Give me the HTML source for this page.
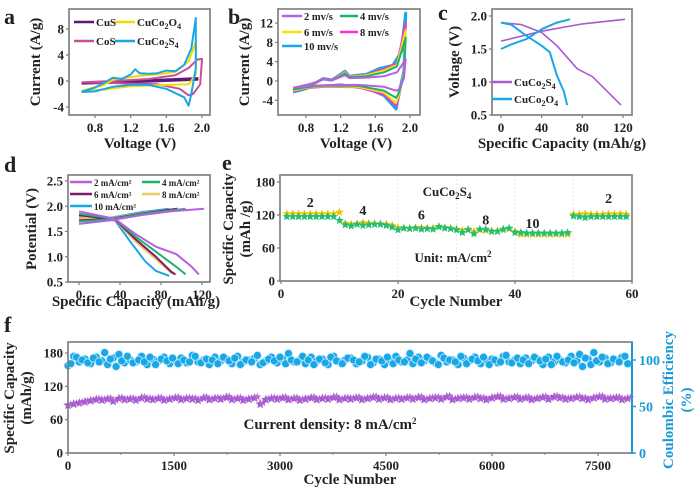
<!DOCTYPE html>
<html><head><meta charset="utf-8"><style>
html,body{margin:0;padding:0;background:#fff;}
svg{display:block;}
svg text{font-family:"Liberation Serif","DejaVu Serif",serif;font-weight:bold;}
</style></head><body>
<svg id="fig" width="700" height="490" viewBox="0 0 700 490" xmlns="http://www.w3.org/2000/svg" font-family="Liberation Serif, serif" font-weight="bold"></svg>
<script>
// ---------- DATA ----------
const aCuS=[[0.65,-0.3],[1.0,-0.1],[1.4,0.1],[1.7,0.3],[1.95,0.45],[1.95,0.2],[1.6,0.0],[1.2,-0.2],[0.65,-0.4]];
const aCoS=[[0.65,-0.2],[1.0,0],[1.4,0.3],[1.7,0.9],[1.85,2.0],[1.95,3.3],[2.0,3.4],[1.98,-0.5],[1.9,-2.0],[1.85,-2.2],[1.75,-1.2],[1.5,-0.5],[1.0,-0.3],[0.65,-0.2]];
const aCuCo2O4=[[0.65,-1.5],[0.9,-0.6],[1.0,0.2],[1.3,0.8],[1.5,1.0],[1.7,1.4],[1.85,3.0],[1.93,6.0],[1.93,1.0],[1.85,-0.5],[1.6,-0.6],[1.2,-0.8],[0.9,-1.3],[0.65,-1.5]];
const aCuCo2S4=[[0.65,-1.7],[0.8,-1.0],[0.9,-0.3],[1.0,0.5],[1.1,0.3],[1.2,1.0],[1.25,1.8],[1.3,1.2],[1.4,1.1],[1.5,1.2],[1.6,1.6],[1.7,1.5],[1.8,2.5],[1.88,5.0],[1.93,9.7],[1.93,2.0],[1.88,-2.0],[1.85,-3.8],[1.8,-2.5],[1.6,-1.2],[1.4,-0.6],[1.2,-0.6],[1.0,-0.9],[0.8,-1.6],[0.65,-1.7]];
const aTicksX=[0.8,1.2,1.6,2.0];
const aTicksY=[-4,0,4,8];
const b2=[[0.65,-1.4],[0.85,-0.6],[1.0,0.3],[1.1,0.1],[1.25,1.2],[1.3,0.6],[1.5,0.7],[1.7,1.0],[1.85,1.8],[1.95,4.5],[1.93,0.5],[1.87,-1.8],[1.84,-2.0],[1.7,-1.2],[1.4,-0.8],[1.0,-0.9],[0.8,-1.1],[0.65,-1.4]];
const b4=[[0.65,-1.8],[0.85,-0.9],[1.0,0.4],[1.1,0.1],[1.25,1.6],[1.3,0.8],[1.5,1.0],[1.7,1.8],[1.85,3.0],[1.95,9.0],[1.93,1.0],[1.87,-2.5],[1.84,-3.5],[1.7,-2.0],[1.4,-1.0],[1.0,-1.0],[0.8,-1.3],[0.65,-1.8]];
const b6=[[0.65,-2.0],[0.85,-1.1],[1.0,0.4],[1.1,0.1],[1.25,1.8],[1.3,0.9],[1.5,1.2],[1.7,2.2],[1.85,3.3],[1.95,10.5],[1.93,1.5],[1.87,-3.0],[1.84,-4.5],[1.7,-2.4],[1.4,-1.2],[1.0,-1.1],[0.8,-1.4],[0.65,-2.0]];
const b8=[[0.65,-2.2],[0.85,-1.2],[1.0,0.5],[1.1,0.2],[1.25,1.9],[1.3,1.0],[1.5,1.3],[1.7,2.5],[1.85,3.6],[1.95,12.0],[1.93,1.8],[1.87,-3.4],[1.84,-5.2],[1.7,-2.8],[1.4,-1.3],[1.0,-1.2],[0.8,-1.5],[0.65,-2.2]];
const b10=[[0.65,-2.3],[0.8,-1.6],[0.9,-0.5],[1.0,0.5],[1.1,0.2],[1.25,2.0],[1.3,1.0],[1.5,1.4],[1.65,2.6],[1.8,3.2],[1.9,6.0],[1.95,14.0],[1.93,2.0],[1.88,-2.0],[1.84,-5.8],[1.7,-3.0],[1.5,-1.5],[1.2,-0.8],[0.85,-1.3],[0.65,-2.3]];
const bTicksX=[0.8,1.2,1.6,2.0];
const bTicksY=[-4,0,4,8,12];
const cS4charge=[[0,1.62],[40,1.77],[80,1.88],[122,1.95]];
const cS4dis=[[0,1.9],[20,1.87],[40,1.75],[55,1.55],[75,1.2],[90,1.08],[105,0.85],[118,0.65]];
const cO4charge=[[0,1.5],[10,1.57],[25,1.65],[40,1.8],[55,1.9],[68,1.95]];
const cO4dis=[[0,1.9],[10,1.87],[25,1.7],[40,1.55],[48,1.45],[55,1.1],[62,0.85],[65,0.65]];
const cTicksX=[0,40,80,120];
const cTicksY=[0.5,1.0,1.5,2.0];
const dLabels=["2 mA/cm²","4 mA/cm²","6 mA/cm²","8 mA/cm²","10 mA/cm²"];
const dCharge=[
 [[0,1.65],[30,1.72],[60,1.82],[90,1.9],[122,1.95]],
 [[0,1.7],[30,1.74],[60,1.84],[104,1.95]],
 [[0,1.72],[30,1.75],[60,1.85],[96,1.95]],
 [[0,1.75],[30,1.76],[60,1.86],[96,1.95]],
 [[0,1.78],[30,1.77],[60,1.88],[88,1.95]]];
const dDis=[
 [[0,1.9],[35,1.75],[55,1.45],[75,1.2],[95,1.05],[110,0.8],[117,0.65]],
 [[0,1.85],[35,1.75],[55,1.4],[75,1.1],[95,0.8],[104,0.65]],
 [[0,1.82],[35,1.74],[55,1.35],[75,1.0],[90,0.7],[94,0.65]],
 [[0,1.8],[35,1.73],[55,1.3],[75,0.95],[90,0.68],[95,0.65]],
 [[0,1.76],[35,1.72],[50,1.3],[65,0.9],[75,0.72],[88,0.62]]];
const dTicksX=[0,40,80,120];
const dTicksY=[0.5,1.0,1.5,2.0,2.5];
const eCycles=[1,2,3,4,5,6,7,8,9,10,11,12,13,14,15,16,17,18,19,20,21,22,23,24,25,26,27,28,29,30,31,32,33,34,35,36,37,38,39,40,41,42,43,44,45,46,47,48,49,50,51,52,53,54,55,56,57,58,59];
const eCharge=[122,122,122,122,122,122,122,122,122,125,105,103,104,106,105,104,104,103,101,97,96,96,97,97,96,96,98,97,96,94,92,94,90,93,92,91,91,93,95,90,85,85,85,85,85,85,85,85,85,121,121,122,121,121,121,122,121,122,121];
const eDis=[117,117,117,117,117,117,117,117,117,110,102,100,103,101,102,103,103,101,98,93,96,95,96,94,95,94,99,96,95,93,88,93,86,94,94,90,90,94,96,88,88,87,87,87,87,87,87,87,88,118,117,115,117,117,117,117,117,117,117];
const eTicksX=[0,20,40,60];
const eTicksY=[0,60,120,180];
const eRateLabels=[["2",5],["4",14],["6",24],["8",35],["10",43],["2",56]];
const eRateY=[135,120,112,103,96,142];
const fStep=80;
const fCE=[94,104,98,101,96,103,99,95,102,106,97,100,98,104,95,101,99,103,96,100,
 102,97,105,98,100,95,103,99,101,96,104,98,100,102,95,99,103,97,101,107,
 98,100,96,103,99,101,95,104,98,100,102,96,99,103,97,101,95,100,104,98,
 100,96,103,99,101,97,105,98,100,95,102,99,103,96,100,101,97,104,98,100,
 96,102,99,101,95,103,98,100,97,104,99,93,101,108,98,102,97,100,103,96];
const fCap=[86,88,90,92,94,96,95,97,93,98,96,97,95,99,97,96,98,95,97,99,
 96,98,97,95,99,96,98,97,100,96,98,95,97,99,88,96,98,97,99,96,
 98,95,97,99,96,98,97,100,96,98,97,99,96,98,100,97,99,96,98,97,
 99,97,100,96,98,99,97,101,96,98,99,97,100,98,96,99,101,97,98,100,
 97,99,96,98,100,97,101,99,97,98,100,98,96,99,101,97,98,99,96,98];
const fTicksX=[0,1500,3000,4500,6000,7500];
const fTicksYL=[0,60,120,180];
const fTicksYR=[0,50,100];

// ---------- DRAWING ----------
const NS="http://www.w3.org/2000/svg";
const svg=document.getElementById('fig');
function mk(tag,attrs,parent){const e=document.createElementNS(NS,tag);for(const k in attrs)e.setAttribute(k,attrs[k]);(parent||svg).appendChild(e);return e;}
function txt(x,y,s,size,anchor,parent,extra){const t=mk('text',Object.assign({x:x,y:y,'font-size':size,'text-anchor':anchor||'middle',fill:'#222','font-family':'Liberation Serif, serif','font-weight':'bold'},extra||{}),parent);t.innerHTML=s;return t;}
function lin(d0,d1,r0,r1){return v=>r0+(v-d0)*(r1-r0)/(d1-d0);}
function poly(pts,sx,sy,color,w,parent){const d=pts.map((p,i)=>(i?'L':'M')+sx(p[0]).toFixed(1)+' '+sy(p[1]).toFixed(1)).join(' ');return mk('path',{d:d,fill:'none',stroke:color,'stroke-width':w,'stroke-linejoin':'round'},parent);}
function box(x0,y0,x1,y1,parent){return mk('rect',{x:x0,y:y0,width:x1-x0,height:y1-y0,fill:'none',stroke:'#7a7a7a','stroke-width':1.6},parent);}
function xticks(ticks,sx,yb,parent,fmt,size){ticks.forEach(t=>{mk('line',{x1:sx(t),x2:sx(t),y1:yb,y2:yb+3,stroke:'#7a7a7a','stroke-width':1.2},parent);txt(sx(t),yb+17,fmt?fmt(t):t,size||13,'middle',parent);});}
function yticks(ticks,sy,xl,parent,fmt,size){ticks.forEach(t=>{mk('line',{x1:xl-3,x2:xl,y1:sy(t),y2:sy(t),stroke:'#7a7a7a','stroke-width':1.2},parent);txt(xl-5,sy(t)+4.5,fmt?fmt(t):t,size||13,'end',parent);});}
function star(cx,cy,r,color,parent){let d='';for(let i=0;i<10;i++){const a=-Math.PI/2+i*Math.PI/5;const rr=i%2?r*0.45:r;d+=(i?'L':'M')+(cx+rr*Math.cos(a)).toFixed(1)+' '+(cy+rr*Math.sin(a)).toFixed(1);}return mk('path',{d:d+'Z',fill:color},parent);}
function legendLine(x,y,len,color,label,parent,size){mk('line',{x1:x,x2:x+len,y1:y,y2:y,stroke:color,'stroke-width':2.5},parent);txt(x+len+2,y+4,label,size||11,'start',parent);}
const f1=v=>v.toFixed(1);

// Panel a
const ga=mk('g',{});
txt(4,24,'a',22,'start',ga);
{const sx=lin(0.8,2.0,95,202), sy=lin(0,8,81,29);
 box(69,9,210,115,ga);
 poly(aCuS,sx,sy,'#5b1a78',2,ga);poly(aCoS,sx,sy,'#c8509a',2,ga);poly(aCuCo2O4,sx,sy,'#f2dc00',2,ga);poly(aCuCo2S4,sx,sy,'#1aa7e6',2,ga);
 xticks(aTicksX,sx,115,ga,f1);yticks(aTicksY,sy,69,ga);
 legendLine(74,22,20,'#5b1a78','CuS',ga);legendLine(115,22,20,'#f2dc00','CuCo<tspan font-size="8" dy="3">2</tspan><tspan dy="-3">O</tspan><tspan font-size="8" dy="3">4</tspan>',ga);
 legendLine(74,41,20,'#c8509a','CoS',ga);legendLine(115,41,20,'#1aa7e6','CuCo<tspan font-size="8" dy="3">2</tspan><tspan dy="-3">S</tspan><tspan font-size="8" dy="3">4</tspan>',ga);
 txt(140,148,'Voltage (V)',15,'middle',ga);
 txt(0,0,'Current (A/g)',15,'middle',ga,{transform:'translate(40,62) rotate(-90)'});}

// Panel b
const gb=mk('g',{});
txt(228,24,'b',22,'start',gb);
{const sx=lin(0.8,2.0,306,410), sy=lin(0,12,81,23);
 box(278,9,420,115,gb);
 const cols=['#b660e0','#1db36a','#f5e800','#ff30d8','#1aa7e6'];
 [b2,b4,b6,b8,b10].slice().reverse().forEach((s,i)=>poly(s,sx,sy,cols[4-i],i==0?3:2,gb));
 xticks(bTicksX,sx,115,gb,f1);yticks(bTicksY,sy,278,gb);
 legendLine(282,16,20,cols[0],'2 mv/s',gb,10.5);legendLine(340,16,18,cols[1],'4 mv/s',gb,10.5);
 legendLine(282,32,20,cols[2],'6 mv/s',gb,10.5);legendLine(340,32,18,cols[3],'8 mv/s',gb,10.5);
 legendLine(282,46,20,cols[4],'10 mv/s',gb,10.5);
 txt(356,148,'Voltage (V)',15,'middle',gb);
 txt(0,0,'Current (A/g)',15,'middle',gb,{transform:'translate(249,62) rotate(-90)'});}

// Panel c
const gc=mk('g',{});
txt(438,20,'c',22,'start',gc);
{const sx=lin(0,120,501,623), sy=lin(0.5,2.0,115,16);
 box(492,9,632,115,gc);
 poly(cS4charge,sx,sy,'#a85ad0',1.6,gc);poly(cS4dis,sx,sy,'#a85ad0',1.6,gc);
 poly(cO4charge,sx,sy,'#1aa7e6',2,gc);poly(cO4dis,sx,sy,'#1aa7e6',2,gc);
 xticks(cTicksX,sx,115,gc);yticks(cTicksY,sy,492,gc,f1);
 legendLine(492,82,20,'#a85ad0','CuCo<tspan font-size="8" dy="3">2</tspan><tspan dy="-3">S</tspan><tspan font-size="8" dy="3">4</tspan>',gc);
 legendLine(492,99,20,'#1aa7e6','CuCo<tspan font-size="8" dy="3">2</tspan><tspan dy="-3">O</tspan><tspan font-size="8" dy="3">4</tspan>',gc);
 txt(562,148,'Specific Capacity (mAh/g)',15,'middle',gc);
 txt(0,0,'Voltage (V)',15,'middle',gc,{transform:'translate(459,62) rotate(-90)'});}

// Panel d
const gd=mk('g',{});
txt(4,172,'d',22,'start',gd);
{const sx=lin(0,120,79,202), sy=lin(0.5,2.5,282,181);
 box(68,175,210,282,gd);
 const cols=['#b660e0','#1db36a','#7a1a6e','#f0c866','#1aa7e6'];
 for(let i=4;i>=0;i--){poly(dCharge[i],sx,sy,cols[i],2,gd);poly(dDis[i],sx,sy,cols[i],2,gd);}
 xticks(dTicksX,sx,282,gd);yticks(dTicksY,sy,68,gd,f1);
 legendLine(70,182,22,cols[0],dLabels[0],gd,9);legendLine(142,182,18,cols[1],dLabels[1],gd,9);
 legendLine(70,194,22,cols[2],dLabels[2],gd,9);legendLine(142,194,18,cols[3],dLabels[3],gd,9);
 legendLine(70,206,22,cols[4],dLabels[4],gd,9);
 txt(136,306,'Specific Capacity (mAh/g)',15,'middle',gd);
 txt(0,0,'Potential (V)',15,'middle',gd,{transform:'translate(36,229) rotate(-90)'});}

// Panel e
const ge=mk('g',{});
txt(222,170,'e',22,'start',ge);
{const sx=lin(0,60,281,632), sy=lin(0,180,281,182);
 [10,20,30,40,50].forEach(c=>mk('line',{x1:sx(c),x2:sx(c),y1:175,y2:281,stroke:'#e4e4e4','stroke-width':0.8,'stroke-dasharray':'2,2'},ge));
 box(280,175,632,281,ge);
 eCycles.forEach((c,i)=>{star(sx(c),sy(eCharge[i]),4.5,'#f2c200',ge);});
 eCycles.forEach((c,i)=>{star(sx(c),sy(eDis[i]),4.5,'#1ec07a',ge);});
 xticks(eTicksX,sx,281,ge);yticks(eTicksY,sy,280,ge);
 eRateLabels.forEach((l,i)=>txt(sx(l[1]),sy(eRateY[i]),l[0],14,'middle',ge));
 txt(447,196,'CuCo<tspan font-size="9" dy="3">2</tspan><tspan dy="-3">S</tspan><tspan font-size="9" dy="3">4</tspan>',13,'middle',ge);
 txt(453,262,'Unit: mA/cm<tspan font-size="9" dy="-5">2</tspan>',13,'middle',ge);
 txt(456,306,'Cycle Number',15,'middle',ge);
 txt(0,0,'Specific Capacity',15,'middle',ge,{transform:'translate(233,229) rotate(-90)'});
 txt(0,0,'(mAh /g)',15,'middle',ge,{transform:'translate(250,229) rotate(-90)'});}

// Panel f
const gf=mk('g',{});
txt(4,332,'f',22,'start',gf);
{const sx=lin(0,7500,68,598), syL=lin(0,180,453,353), syR=lin(0,100,453,360);
 const n=fCE.length;
 fCE.forEach((v,i)=>{mk('circle',{cx:sx(i*fStep).toFixed(1),cy:syR(v).toFixed(1),r:4,fill:'#1aa7e6',stroke:'#c8ecff','stroke-width':0.8},gf);});
 fCE.forEach((v,i)=>{if(i*fStep+40<7950)mk('circle',{cx:sx(i*fStep+40).toFixed(1),cy:syR(fCE[n-1-i]).toFixed(1),r:4,fill:'#1aa7e6',stroke:'#c8ecff','stroke-width':0.8},gf);});
 fCap.forEach((v,i)=>{star(sx(i*fStep),syL(v),5,'#a85ad0',gf);star(sx(i*fStep+40),syL(v+2),4,'#b46ad8',gf);});
 box(68,342,632,453,gf);
 mk('line',{x1:632,x2:632,y1:342,y2:454,stroke:'#1a9ad6','stroke-width':2},gf);
 xticks(fTicksX,sx,453,gf);yticks(fTicksYL,syL,68,gf);
 [750,2250,3750,5250,6750].forEach(t=>mk('line',{x1:sx(t),x2:sx(t),y1:453,y2:455,stroke:'#7a7a7a'},gf));
 fTicksYR.forEach(t=>{mk('line',{x1:632,x2:636,y1:syR(t),y2:syR(t),stroke:'#1a9ad6','stroke-width':1.5},gf);txt(639,syR(t)+5,t,14,'start',gf,{fill:'#1a9ad6'});});
 txt(330,429,'Current density:  8 mA/cm<tspan font-size="9" dy="-5">2</tspan>',15,'middle',gf);
 txt(350,484,'Cycle Number',15,'middle',gf);
 txt(0,0,'Specific Capacity',15,'middle',gf,{transform:'translate(14,398) rotate(-90)'});
 txt(0,0,'(mAh/g)',15,'middle',gf,{transform:'translate(31,398) rotate(-90)'});
 txt(0,0,'Coulombic Efficiency',15,'middle',gf,{transform:'translate(673,400) rotate(-90)',fill:'#1a9ad6'});
 txt(0,0,'(%)',15,'middle',gf,{transform:'translate(691,400) rotate(-90)',fill:'#1a9ad6'});}
</script>
</body></html>
